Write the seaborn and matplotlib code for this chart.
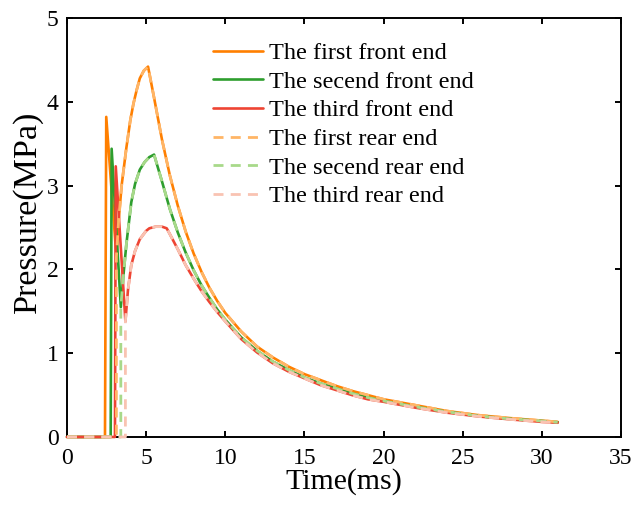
import numpy as np
import pandas as pd
import matplotlib
matplotlib.use("Agg")
import matplotlib.pyplot as plt
import seaborn as sns

# ---------------- data ----------------
t_first = [0, 2.40, 2.48, 3.12, 3.25, 3.45, 3.75, 4.0, 4.2, 4.4, 4.6, 4.85, 5.12,
           5.5, 6.0, 6.5, 7.0, 7.5, 8.0, 8.5, 9.0, 9.5, 10, 11, 12, 13, 14, 15,
           16, 17, 18, 19, 20, 22, 24, 26, 28, 30, 31]
p_first = [0, 0, 3.82, 2.15, 2.55, 3.0, 3.45, 3.78, 3.98, 4.14, 4.28, 4.37, 4.42,
           4.05, 3.55, 3.12, 2.76, 2.45, 2.19, 1.97, 1.78, 1.62, 1.48, 1.26, 1.08,
           0.95, 0.84, 0.75, 0.68, 0.61, 0.55, 0.50, 0.45, 0.38, 0.31, 0.26,
           0.225, 0.195, 0.18]

t_second = [0, 2.76, 2.82, 3.40, 3.55, 3.75, 4.06, 4.3, 4.6, 4.9, 5.2, 5.5,
            6.0, 6.5, 7.0, 7.5, 8.0, 8.5, 9.0, 9.5, 10, 11, 12, 13, 14, 15,
            16, 17, 18, 19, 20, 22, 24, 26, 28, 30, 31]
p_second = [0, 0, 3.44, 1.55, 1.90, 2.30, 2.80, 3.02, 3.19, 3.28, 3.34, 3.37,
            3.05, 2.72, 2.44, 2.20, 1.99, 1.81, 1.66, 1.52, 1.40, 1.19, 1.03,
            0.90, 0.80, 0.71, 0.64, 0.58, 0.52, 0.47, 0.43, 0.36, 0.30, 0.25,
            0.215, 0.19, 0.175]

t_third = [0, 3.03, 3.08, 3.69, 3.85, 4.06, 4.3, 4.6, 5.0, 5.2, 5.6, 6.0, 6.3,
           6.5, 7.0, 7.5, 8.0, 8.5, 9.0, 9.5, 10, 11, 12, 13, 14, 15, 16, 17,
           18, 19, 20, 22, 24, 26, 28, 30, 31]
p_third = [0, 0, 3.23, 1.38, 1.75, 2.05, 2.22, 2.36, 2.46, 2.49, 2.51, 2.51, 2.49,
           2.42, 2.24, 2.05, 1.89, 1.74, 1.61, 1.49, 1.38, 1.17, 1.01, 0.88,
           0.78, 0.70, 0.62, 0.56, 0.50, 0.45, 0.42, 0.35, 0.29, 0.245, 0.21,
           0.18, 0.17]

# arrival time of the wave at the rear end
rear_start = [3.12, 3.40, 3.69]

front_labels = ["The first front end", "The secend front end", "The third front end"]
rear_labels = ["The first rear end", "The secend rear end", "The third rear end"]
front_colors = ["#FF7F00", "#2E9E2E", "#EE4433"]
rear_colors = ["#FFB566", "#A8D98A", "#F9C3B2"]

fronts = [(t_first, p_first), (t_second, p_second), (t_third, p_third)]


def rear_series(t, p, t0):
    tt = [0.0, t0]
    pp = [0.0, 0.0]
    for ti, pi in zip(t, p):
        if ti >= t0:
            tt.append(ti)
            pp.append(pi)
    return tt, pp


# ---------------- plotting ----------------
sns.set_theme(style="ticks")
plt.rcParams["font.family"] = ["Liberation Serif", "DejaVu Serif"]
plt.rcParams["mathtext.fontset"] = "stix"
plt.rcParams["text.color"] = "black"
plt.rcParams["axes.labelcolor"] = "black"
plt.rcParams["xtick.color"] = "black"
plt.rcParams["ytick.color"] = "black"

fig = plt.figure(figsize=(6.35, 5.15), dpi=100)
ax = fig.add_axes([0.1055, 0.1515, 0.8725, 0.8135])

for (t, p), lab, col in zip(fronts, front_labels, front_colors):
    df = pd.DataFrame({"t": t, "p": p})
    sns.lineplot(data=df, x="t", y="p", ax=ax, sort=False, estimator=None,
                 color=col, linewidth=1.9, label=lab, clip_on=False, zorder=3)

for (t, p), t0, lab, col in zip(fronts, rear_start, rear_labels, rear_colors):
    tr, pr = rear_series(t, p, t0)
    df = pd.DataFrame({"t": tr, "p": pr})
    sns.lineplot(data=df, x="t", y="p", ax=ax, sort=False, estimator=None,
                 color=col, linewidth=2.0, label=lab, clip_on=False, zorder=4,
                 linestyle=(0, (3.6, 2.6)))

ax.set_xlim(0, 35)
ax.set_ylim(0, 5)
ax.set_xticks(range(0, 36, 5))
ax.set_yticks(range(0, 6, 1))
ax.set_xlabel("Time(ms)", fontsize=21.5, labelpad=-1, color="black")
ax.set_ylabel("Pressure(MPa)", fontsize=24.5, color="black")
ax.yaxis.set_label_coords(-0.044, 0.538)

for s in ax.spines.values():
    s.set_visible(True)
    s.set_linewidth(1.4)
    s.set_color("black")
ax.tick_params(direction="in", length=4, width=1.4, labelsize=17,
               top=True, right=True, colors="black")
ax.tick_params(axis="x", pad=8)
ax.tick_params(axis="y", pad=6)

leg = ax.legend(loc="upper left", bbox_to_anchor=(0.2635, 0.942),
                frameon=False, fontsize=17.5, handlelength=2.05,
                handletextpad=0.25, labelspacing=0.27, borderpad=0,
                borderaxespad=0)
for txt in leg.get_texts():
    txt.set_color("black")

fig.savefig("out.png", dpi=100)
